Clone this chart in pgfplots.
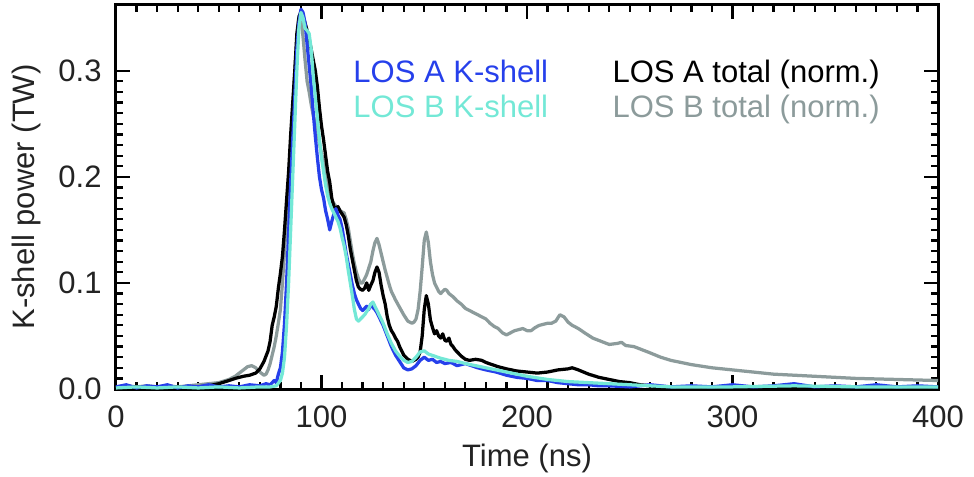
\documentclass[12pt,border=0pt]{standalone}
\usepackage{pgfplots}
\pgfplotsset{compat=1.18}
\usepackage{fontspec}
\setmainfont{Liberation Sans}
\definecolor{losA}{RGB}{38,64,235}
\definecolor{losB}{RGB}{115,232,214}
\definecolor{totB}{RGB}{140,155,155}
\definecolor{txt}{RGB}{35,35,35}
\begin{document}
\begin{tikzpicture}[font=\fontsize{12.4}{15}\selectfont]
\path[use as bounding box] (-46.4pt,-34.8pt) rectangle (343.2pt,155.6pt);
\begin{axis}[
  at={(0,0)}, anchor=south west,
  scale only axis, width=328.8pt, height=153.6pt,
  xmin=0, xmax=400, ymin=0, ymax=0.362,
  xtick distance=100, ytick={0,0.1,0.2,0.3},
  minor x tick num=9, minor y tick num=9,
  tick align=inside,
  major tick length=5.5pt, minor tick length=2.8pt,
  every tick/.style={black, line width=0.9pt},
  axis line style={line width=1.2pt},
  /pgf/number format/assume math mode=true,
  tick label style={text=txt, font=\fontsize{12.4}{15}\selectfont},
  label style={font=\fontsize{12.4}{15}\selectfont},
  xticklabel style={yshift=-2.4pt},
  yticklabel style={xshift=-1.6pt, /pgf/number format/.cd, fixed, fixed zerofill, precision=1},
  xlabel={Time (ns)}, ylabel={K-shell power (TW)},
  x label style={at={(axis description cs:0.5,-0.1797)}, anchor=center, text=txt},
  y label style={at={(axis description cs:-0.1083,0.5)}, anchor=center, text=txt},
  every axis plot/.append style={line width=1.3pt, line join=round},
]
% LOS B total (norm.)
\addplot[totB] coordinates {
(0,0.002)(5,0.003)(10,0.002)(15,0.003)(20,0.002)(25,0.003)(30,0.002)(35,0.003)(40,0.004)(45,0.005)(50,0.006)(55,0.009)(58,0.012)(60,0.015)(62,0.018)(64,0.021)(66,0.022)(68,0.020)(70,0.016)(72,0.013)(73,0.014)(74,0.018)(75,0.024)(76,0.032)(77,0.040)(78,0.050)(79,0.062)(80,0.075)(81,0.100)(82,0.130)(83,0.160)(84,0.195)(85,0.230)(86,0.262)(87,0.300)(88,0.330)(89,0.352)(90,0.350)(91,0.332)(92,0.310)(93,0.290)(94,0.280)(95,0.268)(96,0.258)(97,0.250)(98,0.241)(99,0.232)(100,0.222)(101,0.215)(102,0.205)(103,0.193)(104,0.185)(105,0.178)(106,0.175)(107,0.172)(108,0.170)(109,0.168)(110,0.167)(111,0.166)(112,0.160)(113,0.152)(114,0.140)(115,0.128)(116,0.118)(117,0.110)(118,0.104)(119,0.100)(120,0.100)(121,0.104)(122,0.108)(123,0.114)(124,0.120)(125,0.130)(126,0.138)(127,0.142)(128,0.136)(129,0.128)(130,0.120)(131,0.112)(132,0.105)(133,0.098)(134,0.092)(135,0.088)(136,0.084)(138,0.077)(140,0.070)(142,0.064)(144,0.062)(145,0.063)(146,0.066)(147,0.075)(148,0.092)(149,0.115)(150,0.140)(151,0.148)(152,0.138)(153,0.120)(154,0.108)(155,0.100)(156,0.096)(157,0.092)(158,0.090)(159,0.092)(160,0.094)(161,0.093)(162,0.090)(164,0.087)(166,0.083)(168,0.080)(170,0.076)(172,0.074)(174,0.072)(176,0.070)(178,0.068)(180,0.066)(182,0.062)(184,0.059)(186,0.057)(188,0.053)(190,0.051)(192,0.053)(194,0.055)(196,0.056)(198,0.057)(200,0.055)(202,0.055)(204,0.058)(206,0.060)(208,0.061)(210,0.062)(212,0.062)(214,0.064)(216,0.070)(218,0.068)(220,0.063)(222,0.060)(225,0.057)(228,0.053)(232,0.048)(236,0.045)(240,0.042)(244,0.043)(246,0.044)(248,0.041)(252,0.040)(256,0.037)(260,0.034)(265,0.030)(270,0.027)(275,0.025)(280,0.023)(290,0.020)(300,0.018)(310,0.016)(320,0.014)(330,0.013)(340,0.012)(350,0.011)(360,0.010)(370,0.0095)(380,0.009)(390,0.0085)(400,0.008)
};
% LOS A total (norm.)
\addplot[black] coordinates {
(0,0.001)(10,0.002)(20,0.001)(30,0.002)(40,0.002)(45,0.003)(50,0.005)(55,0.008)(58,0.010)(62,0.012)(65,0.013)(68,0.015)(70,0.019)(72,0.026)(74,0.036)(75,0.045)(76,0.060)(77,0.068)(78,0.078)(79,0.095)(80,0.109)(81,0.125)(82,0.150)(83,0.178)(84,0.205)(85,0.240)(86,0.270)(87,0.300)(88,0.335)(89,0.350)(90,0.356)(91,0.352)(92,0.345)(93,0.338)(94,0.330)(95,0.320)(96,0.310)(97,0.300)(98,0.285)(99,0.265)(100,0.248)(101,0.235)(102,0.220)(103,0.205)(104,0.195)(105,0.180)(106,0.172)(107,0.170)(108,0.172)(109,0.168)(110,0.165)(111,0.162)(112,0.155)(113,0.145)(114,0.132)(115,0.122)(116,0.112)(117,0.102)(118,0.096)(119,0.094)(120,0.093)(121,0.095)(122,0.100)(123,0.093)(124,0.098)(125,0.102)(126,0.110)(127,0.115)(128,0.110)(129,0.098)(130,0.088)(131,0.080)(132,0.068)(133,0.060)(134,0.055)(135,0.052)(136,0.048)(137,0.045)(138,0.040)(139,0.036)(140,0.032)(141,0.030)(142,0.028)(143,0.027)(144,0.026)(145,0.027)(146,0.028)(147,0.030)(148,0.035)(149,0.050)(150,0.075)(151,0.088)(152,0.080)(153,0.065)(154,0.058)(155,0.052)(156,0.055)(157,0.050)(158,0.048)(159,0.052)(160,0.046)(161,0.045)(162,0.048)(163,0.042)(164,0.040)(165,0.037)(166,0.035)(167,0.033)(168,0.031)(170,0.028)(172,0.027)(175,0.028)(178,0.027)(180,0.025)(183,0.023)(186,0.021)(190,0.019)(195,0.017)(200,0.016)(205,0.015)(210,0.016)(215,0.018)(220,0.019)(222,0.020)(225,0.018)(230,0.014)(235,0.011)(240,0.009)(245,0.007)(250,0.006)(255,0.004)(260,0.003)(265,0.002)(270,0.001)(300,0.001)(350,0.001)(400,0.001)
};
% LOS A K-shell
\addplot[losA] coordinates {
(0,0.002)(5,0.004)(10,0.001)(15,0.003)(20,0.002)(25,0.004)(30,0.001)(35,0.003)(40,0.002)(45,0.004)(50,0.002)(55,0.003)(60,0.002)(65,0.004)(70,0.003)(73,0.005)(75,0.004)(77,0.008)(78,0.006)(79,0.014)(80,0.020)(81,0.035)(82,0.062)(83,0.100)(84,0.147)(85,0.195)(86,0.235)(87,0.275)(88,0.320)(89,0.345)(90,0.358)(91,0.355)(92,0.345)(93,0.325)(94,0.305)(95,0.285)(96,0.260)(97,0.238)(98,0.218)(99,0.200)(100,0.188)(101,0.180)(102,0.168)(103,0.160)(104,0.150)(105,0.158)(106,0.165)(107,0.170)(108,0.164)(109,0.160)(110,0.152)(111,0.140)(112,0.128)(113,0.118)(114,0.108)(115,0.098)(116,0.090)(117,0.084)(118,0.080)(119,0.076)(120,0.074)(121,0.076)(122,0.078)(123,0.075)(124,0.080)(125,0.077)(126,0.075)(127,0.072)(128,0.068)(130,0.060)(132,0.050)(134,0.040)(136,0.032)(138,0.026)(140,0.020)(142,0.018)(144,0.019)(146,0.022)(148,0.027)(150,0.030)(152,0.027)(154,0.028)(156,0.025)(158,0.026)(160,0.024)(163,0.025)(166,0.022)(170,0.024)(173,0.022)(176,0.020)(180,0.018)(185,0.016)(190,0.013)(195,0.011)(200,0.010)(205,0.008)(210,0.008)(215,0.006)(220,0.005)(225,0.004)(230,0.004)(235,0.003)(240,0.003)(250,0.002)(260,0.004)(270,0.002)(280,0.003)(290,0.002)(300,0.004)(310,0.002)(320,0.003)(330,0.005)(340,0.002)(350,0.003)(360,0.002)(370,0.004)(380,0.002)(390,0.003)(400,0.002)
};
% LOS B K-shell
\addplot[losB] coordinates {
(0,0.001)(10,0.002)(20,0.001)(30,0.002)(40,0.001)(50,0.002)(60,0.001)(70,0.002)(75,0.002)(78,0.003)(80,0.008)(81,0.015)(82,0.030)(83,0.060)(84,0.100)(85,0.150)(86,0.200)(87,0.250)(88,0.300)(89,0.340)(90,0.355)(91,0.350)(92,0.340)(93,0.338)(94,0.335)(95,0.320)(96,0.295)(97,0.275)(98,0.255)(99,0.235)(100,0.218)(101,0.205)(102,0.192)(103,0.182)(104,0.175)(105,0.170)(106,0.166)(107,0.162)(108,0.158)(109,0.152)(110,0.143)(111,0.135)(112,0.125)(113,0.112)(114,0.100)(115,0.088)(116,0.075)(117,0.066)(118,0.064)(119,0.066)(120,0.068)(121,0.070)(122,0.073)(123,0.076)(124,0.080)(125,0.082)(126,0.078)(127,0.074)(128,0.070)(130,0.062)(132,0.052)(134,0.043)(136,0.036)(138,0.031)(140,0.027)(142,0.025)(144,0.026)(146,0.030)(148,0.035)(150,0.036)(152,0.033)(155,0.031)(158,0.029)(162,0.027)(166,0.026)(170,0.024)(175,0.022)(180,0.020)(185,0.018)(190,0.016)(195,0.014)(200,0.012)(210,0.009)(220,0.007)(230,0.006)(240,0.005)(250,0.004)(260,0.003)(270,0.002)(300,0.002)(330,0.003)(360,0.002)(400,0.002)
};
\node[anchor=base west, inner sep=0, text=losA] at (axis cs:115.3,0.2887) {LOS A K-shell};
\node[anchor=base west, inner sep=0, text=losB] at (axis cs:115.3,0.2557) {LOS B K-shell};
\node[anchor=base west, inner sep=0, text=black] at (axis cs:241.4,0.2887) {LOS A total (norm.)};
\node[anchor=base west, inner sep=0, text=totB] at (axis cs:241.4,0.2557) {LOS B total (norm.)};
\end{axis}
\end{tikzpicture}
\end{document}
